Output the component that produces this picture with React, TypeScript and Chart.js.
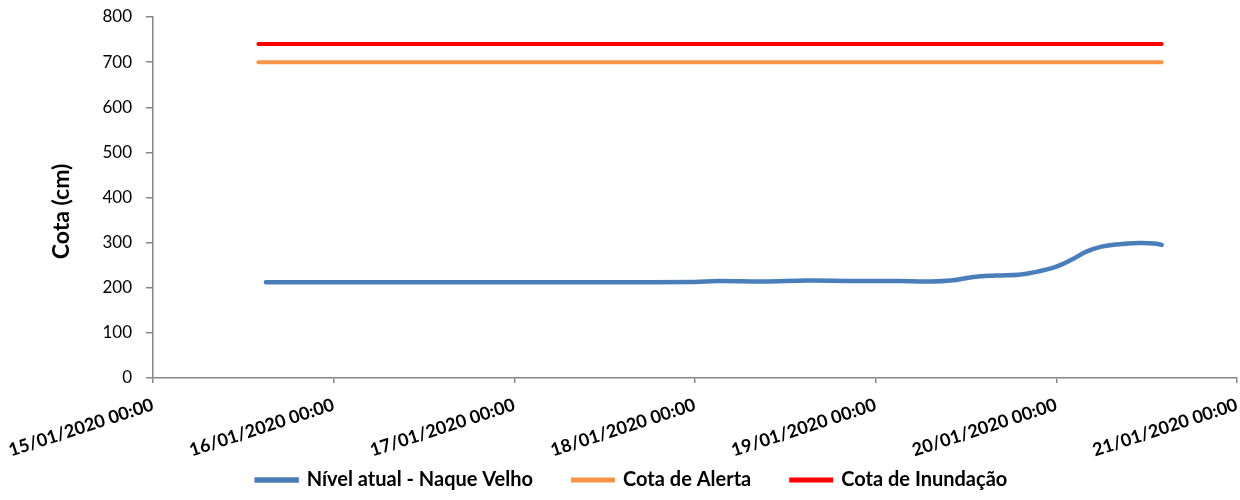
import React, { useEffect, useRef } from "react";
import { Chart, registerables } from "chart.js";

Chart.register(...registerables);

const FONT = "Lato, 'DejaVu Sans', sans-serif";

const startTime = "15/01/2020 00:00";
const xTickLabels = [
  "15/01/2020 00:00",
  "16/01/2020 00:00",
  "17/01/2020 00:00",
  "18/01/2020 00:00",
  "19/01/2020 00:00",
  "20/01/2020 00:00",
  "21/01/2020 00:00",
];
const yTickValues = [0, 100, 200, 300, 400, 500, 600, 700, 800];
const yAxisTitle = "Cota (cm)";

const nivelTimes = [
  "15/01/2020 15:00",
  "16/01/2020 00:00",
  "16/01/2020 12:00",
  "17/01/2020 00:00",
  "17/01/2020 12:00",
  "18/01/2020 00:00",
  "18/01/2020 03:00",
  "18/01/2020 09:00",
  "18/01/2020 15:00",
  "18/01/2020 21:00",
  "19/01/2020 03:00",
  "19/01/2020 07:00",
  "19/01/2020 10:00",
  "19/01/2020 13:00",
  "19/01/2020 16:00",
  "19/01/2020 19:00",
  "19/01/2020 21:00",
  "20/01/2020 00:00",
  "20/01/2020 02:00",
  "20/01/2020 04:00",
  "20/01/2020 06:00",
  "20/01/2020 08:00",
  "20/01/2020 11:00",
  "20/01/2020 13:00",
  "20/01/2020 14:00",
];
const nivelValues = [
  212, 212, 212, 212, 212, 213, 215, 214, 216, 215, 215, 214, 216, 224, 227,
  229, 234, 247, 262, 280, 291, 296, 299, 298, 295,
];

const limitTimes = ["15/01/2020 14:00", "20/01/2020 14:00"];
const alertaValues = [700, 700];
const inundacaoValues = [740, 740];

const seriesLabels = ["Nível atual - Naque Velho", "Cota de Alerta", "Cota de Inundação"];
const seriesColors = ["#4A7EBB", "#F79646", "#FF0000"];

function parseTime(s: string): number {
  const [d, t] = s.split(" ");
  const [dd, mm, yyyy] = d.split("/").map(Number);
  const [hh, mi] = t.split(":").map(Number);
  return Date.UTC(yyyy, mm - 1, dd, hh, mi);
}
const t0 = parseTime(startTime);
const hoursOf = (s: string) => (parseTime(s) - t0) / 3600000;

export default function App() {
  const ref = useRef<HTMLCanvasElement | null>(null);

  useEffect(() => {
    if (!ref.current) return;
    const axisColor = "#868686";
    const chart = new Chart(ref.current, {
      type: "line",
      data: {
        datasets: [
          {
            label: seriesLabels[0],
            data: nivelTimes.map((t, i) => ({ x: hoursOf(t), y: nivelValues[i] })),
            borderColor: seriesColors[0],
            backgroundColor: seriesColors[0],
            borderWidth: 4.5,
            pointRadius: 0,
            tension: 0.4,
            borderCapStyle: "round",
          },
          {
            label: seriesLabels[1],
            data: limitTimes.map((t, i) => ({ x: hoursOf(t), y: alertaValues[i] })),
            borderColor: seriesColors[1],
            backgroundColor: seriesColors[1],
            borderWidth: 4,
            pointRadius: 0,
            borderCapStyle: "round",
          },
          {
            label: seriesLabels[2],
            data: limitTimes.map((t, i) => ({ x: hoursOf(t), y: inundacaoValues[i] })),
            borderColor: seriesColors[2],
            backgroundColor: seriesColors[2],
            borderWidth: 4,
            pointRadius: 0,
            borderCapStyle: "round",
          },
        ],
      },
      options: {
        responsive: false,
        animation: false,
        layout: { padding: { left: 24, right: 0, top: 17, bottom: 0 } },
        plugins: {
          title: { display: false },
          tooltip: { enabled: false },
          legend: {
            position: "bottom",
            labels: {
              boxWidth: 40,
              boxHeight: 1,
              padding: 40,
              color: "#000",
              font: { family: FONT, size: 20, weight: "bold" },
            },
          },
        },
        scales: {
          x: {
            type: "linear",
            min: 0,
            max: (xTickLabels.length - 1) * 24,
            afterBuildTicks: (s: any) => {
              s.ticks = xTickLabels.map((_, i) => ({ value: i * 24 }));
            },
            afterFit: (s: any) => {
              s.height = 52;
              s.paddingLeft = 0;
              s.paddingRight = 3;
              s._computeLabelArea = () => undefined;
            },
            ticks: {
              autoSkip: false,
              minRotation: 18,
              maxRotation: 18,
              padding: 11,
              color: "#000",
              font: { family: FONT, size: 18, weight: "bold" },
              callback: (v: any) => xTickLabels[Math.round(Number(v) / 24)] ?? "",
            },
            grid: {
              display: true,
              drawOnChartArea: false,
              drawTicks: true,
              tickLength: 5,
              color: axisColor,
              lineWidth: 1.5,
            },
            border: { display: true, color: axisColor, width: 1.5 },
          },
          y: {
            min: 0,
            max: 800,
            afterBuildTicks: (s: any) => {
              s.ticks = yTickValues.map((v) => ({ value: v }));
            },
            afterFit: (s: any) => {
              s.width = 129;
              s.paddingTop = 0;
              s.paddingBottom = 0;
            },
            ticks: {
              padding: 14,
              color: "#000",
              font: { family: FONT, size: 17 },
            },
            grid: {
              display: true,
              drawOnChartArea: false,
              drawTicks: true,
              tickLength: 7,
              color: axisColor,
              lineWidth: 1.5,
            },
            border: { display: true, color: axisColor, width: 1.5 },
            title: {
              display: true,
              text: yAxisTitle + "\u00a0\u00a0\u00a0\u00a0\u00a0",
              color: "#000",
              font: { family: FONT, size: 23, weight: "bold" },
              padding: { top: 24, bottom: 0 },
            },
          },
        },
      },
    } as any);
    return () => chart.destroy();
  }, []);

  return (
    <div style={{ position: "absolute", left: 0, top: 0, width: 1240, height: 500, background: "#fff" }}>
      <canvas ref={ref} width={1240} height={500} />
    </div>
  );
}
